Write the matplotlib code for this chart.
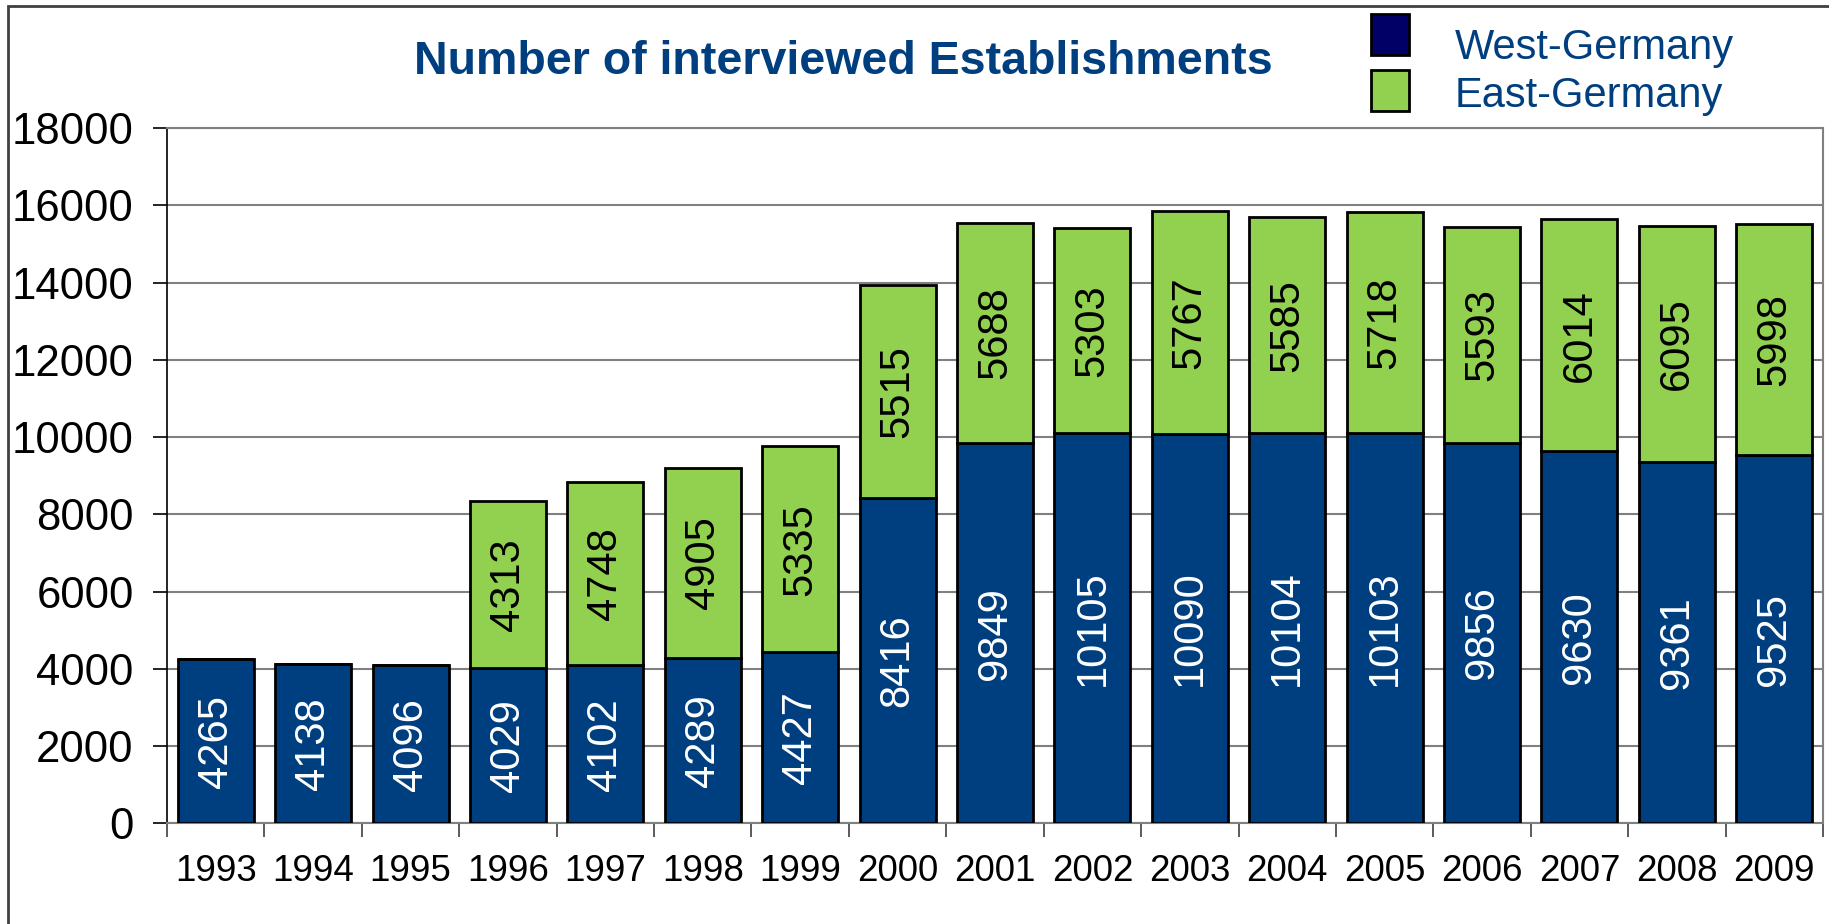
import numpy as np
import matplotlib
matplotlib.use("Agg")
import matplotlib.pyplot as plt
from matplotlib.patches import Rectangle

plt.rcParams['font.family'] = ['Liberation Sans', 'DejaVu Sans']

years = ["1993", "1994", "1995", "1996", "1997", "1998", "1999", "2000", "2001",
         "2002", "2003", "2004", "2005", "2006", "2007", "2008", "2009"]
west = [4265, 4138, 4096, 4029, 4102, 4289, 4427, 8416, 9849,
        10105, 10090, 10104, 10103, 9856, 9630, 9361, 9525]
east = [0, 0, 0, 4313, 4748, 4905, 5335, 5515, 5688,
        5303, 5767, 5585, 5718, 5593, 6014, 6095, 5998]
series = ["West-Germany", "East-Germany"]

blue = "#003F7F"
green = "#92D050"
navy = "#000066"

W, H = 1829, 924
fig = plt.figure(figsize=(W / 100, H / 100), dpi=100)
ax = fig.add_axes([0.0913, 0.1088, 0.9054, 0.7527])

x = np.arange(len(years))
w = 0.78
ax.bar(x, west, w, color=blue, edgecolor="black", linewidth=2, zorder=3)
ax.bar(x, east, w, bottom=west, color=green, edgecolor="black", linewidth=2, zorder=3)

# labels inside the segments
for i in range(len(years)):
    ax.text(x[i], west[i] / 2, str(west[i]), rotation=90, ha="center", va="center",
            color="white", fontsize=30, zorder=4)
    if east[i] > 0:
        ax.text(x[i], west[i] + east[i] / 2, str(east[i]), rotation=90, ha="center",
                va="center", color="black", fontsize=30, zorder=4)

ax.set_xlim(-0.5, len(years) - 0.5)
ax.set_ylim(0, 18000)
ax.set_yticks(np.arange(0, 18001, 2000))
ax.tick_params(axis="y", labelsize=31.5, length=10, width=1.2, pad=14, direction="out")
ax.set_xticks(x)
ax.set_xticklabels(years)
ax.tick_params(axis="x", which="major", labelsize=26.5, length=0, pad=22)
ax.set_xticks(np.arange(-0.5, len(years)), minor=True)
ax.tick_params(axis="x", which="minor", length=10, width=1.2, color="#404040")
ax.grid(axis="y", color="#808080", linewidth=1.5, zorder=0)

for s in ["top", "right", "bottom"]:
    ax.spines[s].set_color("#808080")
    ax.spines[s].set_linewidth(1.5)
ax.spines["left"].set_color("black")
ax.spines["left"].set_linewidth(1.2)

fig.text(843 / W, 1 - 62 / H, "Number of interviewed Establishments", ha="center",
         va="center", fontsize=33.5, fontweight="bold", color=blue)

# legend, drawn by hand in figure pixels
leg_colors = [navy, green]
leg_box_top = [14, 70]
leg_text_y = [43, 91]
for name, c, top, ty in zip(series, leg_colors, leg_box_top, leg_text_y):
    fig.add_artist(Rectangle((1371 / W, 1 - (top + 41) / H), 38 / W, 41 / H,
                             transform=fig.transFigure, facecolor=c,
                             edgecolor="black", linewidth=2))
    fig.text(1455 / W, 1 - ty / H, name, ha="left", va="center_baseline",
             fontsize=30, color=blue)

# outer frame
fig.add_artist(Rectangle((0.0045, -0.01), 1.0, 1.004, transform=fig.transFigure,
                         fill=False, edgecolor="#404040", linewidth=2))

fig.savefig("out.png", dpi=100)
